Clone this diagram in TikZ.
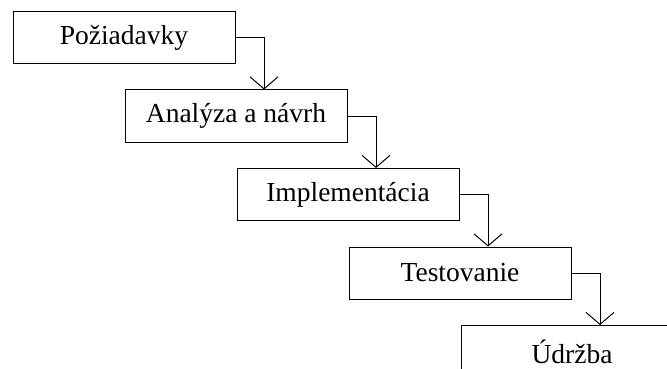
\documentclass[tikz,border=0pt]{standalone}
\usepackage{fontspec}
\setmainfont{Liberation Serif}
\usetikzlibrary{arrows.meta,positioning}

\begin{document}
\begin{tikzpicture}[x=1pt,y=-1pt,
  stage/.style={rectangle,draw,line width=1pt,minimum width=222pt,minimum height=52pt,inner sep=0pt,font=\fontsize{27.5}{33}\selectfont},
  flow/.style={draw,line width=1pt,-{Straight Barb[length=12pt,width=28pt,line width=1pt]}}]
  \path[use as bounding box] (0,0) rectangle (667,369);
  \clip (0,0) rectangle (667,369);

  \node[stage] (poziadavky) at (124,37.5) {Požiadavky};
  \node[stage,below right=25.5pt and -111pt of poziadavky] (analyza) {Analýza a návrh};
  \node[stage,below right=25.5pt and -111pt of analyza] (implementacia) {Implementácia};
  \node[stage,below right=25.5pt and -111pt of implementacia] (testovanie) {Testovanie};
  \node[stage,below right=25.5pt and -111pt of testovanie] (udrzba) {Údržba};

  \foreach \a/\b in {poziadavky/analyza,analyza/implementacia,implementacia/testovanie,testovanie/udrzba}
    \draw[flow] (\a.east) -| ([xshift=28pt]\b.north);
\end{tikzpicture}
\end{document}
